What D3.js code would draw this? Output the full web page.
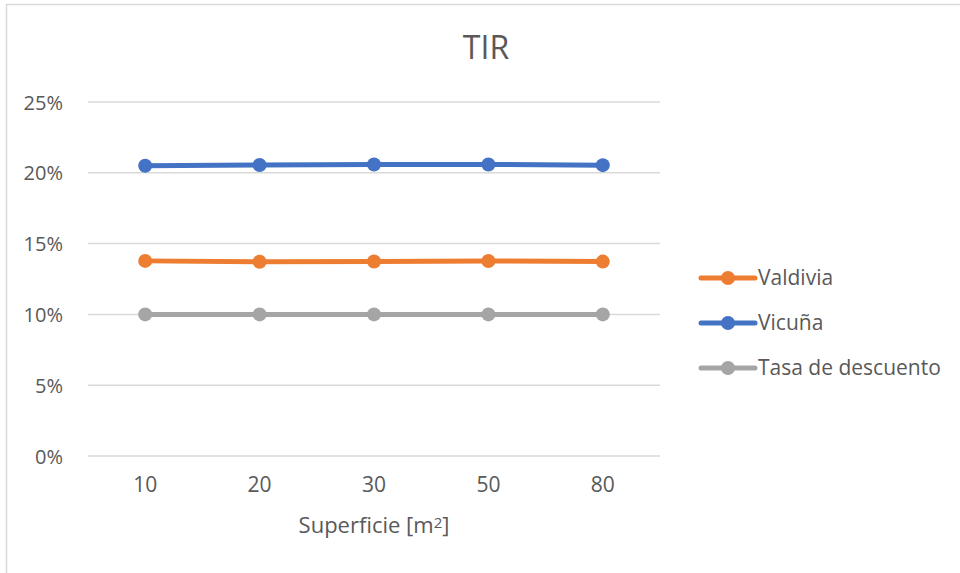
<!DOCTYPE html>
<html>
<head>
<meta charset="utf-8">
<script src="https://cdn.jsdelivr.net/npm/d3@7"></script>
<style>
  body { margin: 0; background: #fff; }
  text { font-family: "Open Sans", sans-serif; fill: #595959; }
</style>
</head>
<body>
<div id="chart"></div>
<script>
// Superficie [m2]
const categories = ["10", "20", "30", "50", "80"]
const valdivia = [0.1378, 0.1372, 0.1374, 0.1377, 0.1373]
const vicuna = [0.2050, 0.2055, 0.2059, 0.2059, 0.2054]
const tasa = [0.10, 0.10, 0.10, 0.10, 0.10]
const yTicks = [0, 0.05, 0.10, 0.15, 0.20, 0.25]

const series = [
    {name: "Valdivia", values: valdivia, color: "#ED7D31"},
    {name: "Vicuña", values: vicuna, color: "#4472C4"},
    {name: "Tasa de descuento", values: tasa, color: "#A5A5A5"}
]
// orden de dibujo: tasa abajo
const drawOrder = [series[2], series[0], series[1]]

const width = 960
const height = 573
const margin = {top: 102, right: 300, bottom: 117, left: 88}

const svg = d3.select("#chart")
    .append("svg")
    .attr("width", width)
    .attr("height", height)

// marco del grafico
svg.append("rect")
    .attr("x", 6.5).attr("y", 4.5)
    .attr("width", 980).attr("height", 600)
    .attr("fill", "none")
    .attr("stroke", "#d9d9d9")
    .attr("stroke-width", 1.5)

const x = d3.scaleBand()
    .domain(categories)
    .range([margin.left, width - margin.right])

const y = d3.scaleLinear()
    .domain([0, 0.25])
    .range([height - margin.bottom, margin.top])

// lineas de cuadricula
svg.append("g")
    .selectAll("line")
    .data(yTicks)
    .enter().append("line")
    .attr("x1", x.range()[0])
    .attr("x2", x.range()[1])
    .attr("y1", d => y(d))
    .attr("y2", d => y(d))
    .attr("stroke", "#d9d9d9")
    .attr("stroke-width", 1.5)

// eje y
const yAxis = svg.append("g")
    .attr("transform", "translate(" + (margin.left - 22) + ",0)")
    .call(d3.axisLeft(y).tickValues(yTicks).tickFormat(d3.format(".0%")).tickSize(0))
yAxis.select(".domain").remove()
yAxis.selectAll("text")
    .style("font-size", "20px")
    .attr("dy", "0.35em")

// eje x
const xAxis = svg.append("g")
    .attr("transform", "translate(0," + (y(0) + 18) + ")")
    .call(d3.axisBottom(x).tickSize(0))
xAxis.select(".domain").remove()
xAxis.selectAll("text")
    .style("font-size", "21px")
    .attr("dy", "0.7em")

// titulo
svg.append("text")
    .attr("x", 486)
    .attr("y", 59)
    .attr("text-anchor", "middle")
    .style("font-size", "32px")
    .text("TIR")

// titulo del eje x
const xl = svg.append("text")
    .attr("x", (x.range()[0] + x.range()[1]) / 2)
    .attr("y", 533)
    .attr("text-anchor", "middle")
    .style("font-size", "22px")
xl.append("tspan").text("Superficie [m")
xl.append("tspan").attr("baseline-shift", "35%").style("font-size", "15px").text("2")
xl.append("tspan").text("]")

const line = d3.line()
    .x((d, i) => x(categories[i]) + x.bandwidth() / 2)
    .y(d => y(d))

drawOrder.forEach(function (s) {
    svg.append("path")
        .datum(s.values)
        .attr("fill", "none")
        .attr("stroke", s.color)
        .attr("stroke-width", 5)
        .attr("stroke-linecap", "round")
        .attr("d", line)

    svg.append("g")
        .selectAll("circle")
        .data(s.values)
        .enter().append("circle")
        .attr("cx", (d, i) => x(categories[i]) + x.bandwidth() / 2)
        .attr("cy", d => y(d))
        .attr("r", 7)
        .attr("fill", s.color)
})

// leyenda
const legend = svg.append("g")
    .selectAll("g")
    .data(series)
    .enter().append("g")
    .attr("transform", (d, i) => "translate(701," + (278 + i * 45) + ")")

legend.append("line")
    .attr("x1", 0).attr("x2", 54)
    .attr("stroke", d => d.color)
    .attr("stroke-width", 5)
    .attr("stroke-linecap", "round")

legend.append("circle")
    .attr("cx", 27)
    .attr("r", 7)
    .attr("fill", d => d.color)

legend.append("text")
    .attr("x", 57)
    .attr("dy", "0.35em")
    .style("font-size", "21px")
    .text(d => d.name)
</script>
</body>
</html>
